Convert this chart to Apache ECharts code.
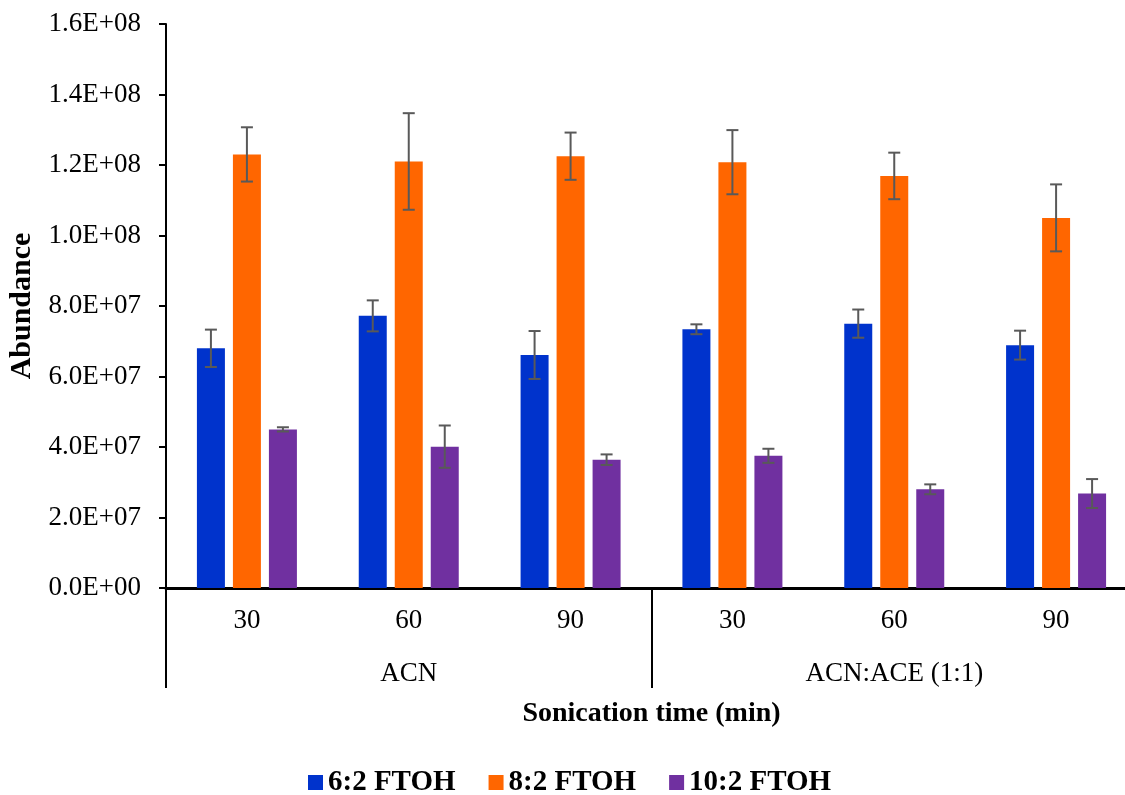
<!DOCTYPE html>
<html>
<head>
<meta charset="utf-8">
<script src="https://cdn.jsdelivr.net/npm/echarts@6/dist/echarts.min.js"></script>
<style>
  html, body { margin: 0; padding: 0; background: #fff; }
  #chart { width: 1125px; height: 795px; }
</style>
</head>
<body>
<div id="chart"></div>
<script>
// sonication time per group, and solvent groups
var times = ['30', '60', '90', '30', '60', '90'];
var solvents = ['ACN', 'ACN:ACE (1:1)'];

// mean abundance and error
var ftoh62 = [6.80e7, 7.72e7, 6.61e7, 7.34e7, 7.50e7, 6.89e7];
var ftoh62Err = [5.3e6, 4.4e6, 6.8e6, 1.4e6, 4.0e6, 4.1e6];
var ftoh82 = [1.230e8, 1.210e8, 1.225e8, 1.208e8, 1.169e8, 1.050e8];
var ftoh82Err = [7.7e6, 13.7e6, 6.7e6, 9.1e6, 6.6e6, 9.5e6];
var ftoh102 = [4.50e7, 4.01e7, 3.64e7, 3.75e7, 2.80e7, 2.68e7];
var ftoh102Err = [0.6e6, 6.0e6, 1.5e6, 2.0e6, 1.4e6, 4.1e6];

var serif = "'Liberation Serif', 'Times New Roman', serif";
var barW = 28, gap = 8;

var fmtSci = function (v) {
  var parts = v.toExponential(1).split('e');
  var ex = parseInt(parts[1], 10);
  var sign = ex < 0 ? '-' : '+';
  ex = Math.abs(ex);
  return parts[0] + 'E' + sign + (ex < 10 ? '0' + ex : ex);
};

var errData = function (vals, errs) {
  return vals.map(function (v, i) { return [i, v - errs[i], v + errs[i]]; });
};

var errSeries = function (name, vals, errs, offset) {
  return {
    name: name + ' err',
    type: 'custom',
    z: 5,
    data: errData(vals, errs),
    renderItem: function (params, api) {
      var lo = api.coord([api.value(0), api.value(1)]);
      var hi = api.coord([api.value(0), api.value(2)]);
      var x = lo[0] + offset;
      var cap = 6;
      var st = { stroke: '#595959', lineWidth: 2 };
      return {
        type: 'group',
        children: [
          { type: 'line', shape: { x1: x, y1: lo[1], x2: x, y2: hi[1] }, style: st },
          { type: 'line', shape: { x1: x - cap, y1: lo[1], x2: x + cap, y2: lo[1] }, style: st },
          { type: 'line', shape: { x1: x - cap, y1: hi[1], x2: x + cap, y2: hi[1] }, style: st }
        ]
      };
    }
  };
};

var barSeries = function (name, vals, color) {
  return {
    name: name,
    type: 'bar',
    data: vals,
    barWidth: barW,
    barGap: (gap / barW * 100) + '%',
    itemStyle: { color: color }
  };
};

var chart = echarts.init(document.getElementById('chart'));
var option = {
  animation: false,
  textStyle: { fontFamily: serif, color: '#000' },
  grid: { left: 166, top: 24, width: 971, height: 564, containLabel: false, outerBoundsMode: 'none' },
  legend: {
    data: ['6:2 FTOH', '8:2 FTOH', '10:2 FTOH'],
    top: 763,
    left: 303,
    itemWidth: 15,
    itemHeight: 15,
    itemGap: 33,
    icon: 'rect',
    textStyle: { fontFamily: serif, fontSize: 29, fontWeight: 'bold', color: '#000' }
  },
  xAxis: [{
    type: 'category',
    data: times,
    name: 'Sonication time (min)',
    nameLocation: 'middle',
    nameGap: 112,
    nameTextStyle: { fontFamily: serif, fontSize: 28, fontWeight: 'bold', color: '#000' },
    axisLine: { lineStyle: { color: '#000', width: 3 } },
    axisTick: { show: false },
    axisLabel: { fontFamily: serif, fontSize: 27, color: '#000', margin: 19 }
  }, {
    type: 'category',
    data: solvents,
    position: 'bottom',
    axisLine: { show: false },
    axisTick: { show: true, length: 100, lineStyle: { color: '#000', width: 2 } },
    axisLabel: { fontFamily: serif, fontSize: 27, color: '#000', margin: 72 }
  }],
  yAxis: {
    type: 'value',
    min: 0,
    max: 1.6e8,
    interval: 2e7,
    name: 'Abundance',
    nameLocation: 'middle',
    nameGap: 129,
    nameTextStyle: { fontFamily: serif, fontSize: 30, fontWeight: 'bold', color: '#000' },
    axisLine: { show: true, lineStyle: { color: '#000', width: 2 } },
    axisTick: { show: true, length: 7, lineStyle: { color: '#000', width: 2 } },
    splitLine: { show: false },
    axisLabel: { fontFamily: serif, fontSize: 27, color: '#000', margin: 25, formatter: fmtSci }
  },
  series: [
    barSeries('6:2 FTOH', ftoh62, '#0033CC'),
    barSeries('8:2 FTOH', ftoh82, '#FF6600'),
    barSeries('10:2 FTOH', ftoh102, '#7030A0'),
    errSeries('6:2 FTOH', ftoh62, ftoh62Err, -(barW + gap)),
    errSeries('8:2 FTOH', ftoh82, ftoh82Err, 0),
    errSeries('10:2 FTOH', ftoh102, ftoh102Err, barW + gap)
  ]
};
chart.setOption(option);
</script>
</body>
</html>
